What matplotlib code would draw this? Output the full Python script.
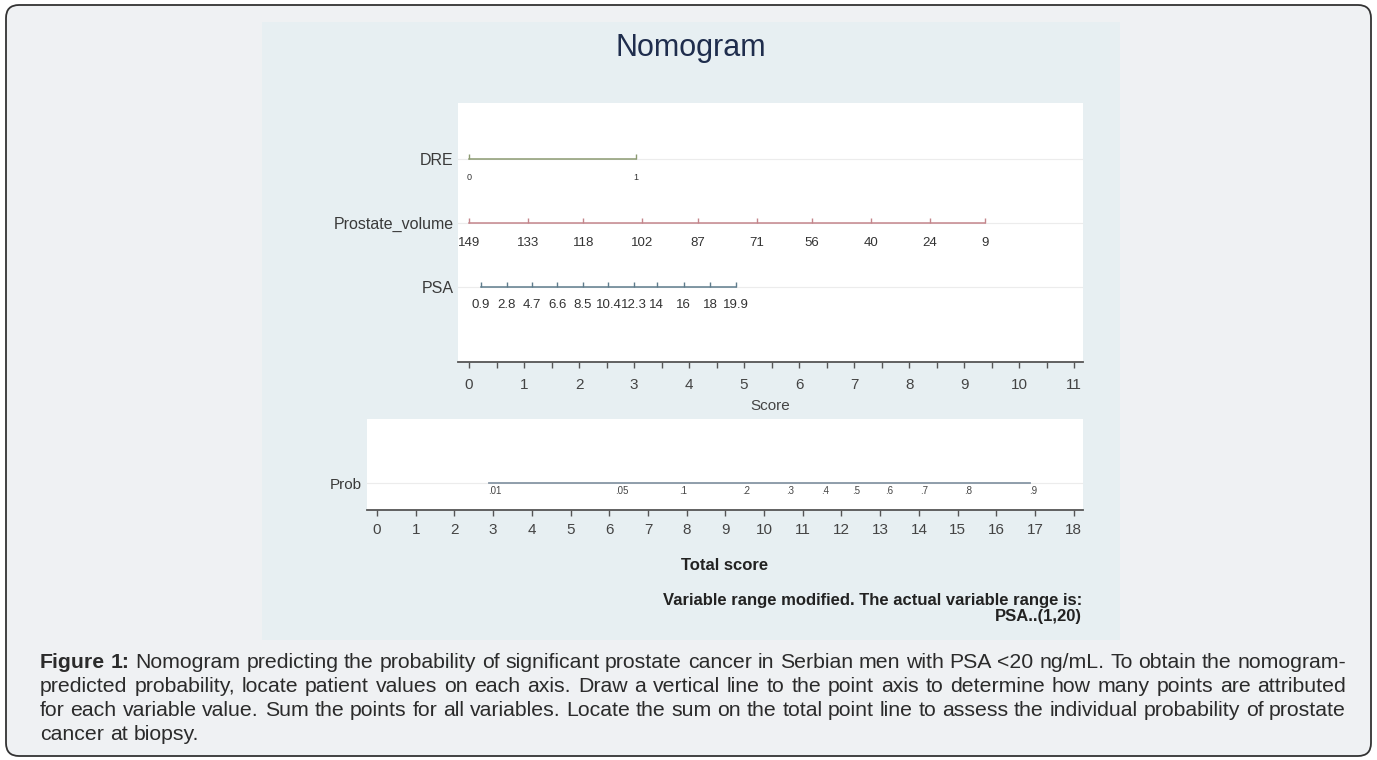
import matplotlib
matplotlib.use('Agg')
import matplotlib.pyplot as plt
from matplotlib.patches import FancyBboxPatch, Rectangle
import numpy as np

plt.rcParams['font.family'] = ['Liberation Sans', 'DejaVu Sans']

W, H = 1377, 760

# values
rows = ['DRE', 'Prostate_volume', 'PSA']
dre_values = [0, 1]
dre_coef = 3.03            # points for a positive DRE
pv_values = [149, 133, 118, 102, 87, 71, 56, 40, 24, 9]
pv_coef = 0.067            # points per ml below 149
psa_values = [0.9, 2.8, 4.7, 6.6, 8.5, 10.4, 12.3, 14, 16, 18, 19.9]
psa_coef = 0.2437          # points per ng/mL
score_ticks = np.arange(0, 11.5, 0.5)

prob_labels = ['.01', '.05', '.1', '.2', '.3', '.4', '.5', '.6', '.7', '.8', '.9']
prob_scores = [2.88, 6.15, 7.8, 9.43, 10.57, 11.47, 12.27, 13.13, 14.04, 15.16, 16.86]
total_ticks = list(range(0, 19))

caption_head = 'Figure 1:'
caption_lines = [
    'Nomogram predicting the probability of significant prostate cancer in Serbian men with PSA <20 ng/mL. To obtain the nomogram-',
    'predicted probability, locate patient values on each axis. Draw a vertical line to the point axis to determine how many points are attributed',
    'for each variable value. Sum the points for all variables. Locate the sum on the total point line to assess the individual probability of prostate',
    'cancer at biopsy.',
]

fig = plt.figure(figsize=(W / 100, H / 100), dpi=100)
fig.patch.set_facecolor('white')


def px_axes(x0, y0, x1, y1):
    # axes placed by pixel box (top-left origin)
    return fig.add_axes([x0 / W, 1 - y1 / H, (x1 - x0) / W, (y1 - y0) / H])


bg = px_axes(0, 0, W, H)
bg.set_xlim(0, W)
bg.set_ylim(H, 0)
bg.axis('off')
bg.add_patch(FancyBboxPatch((6, 5), 1365, 751, boxstyle='round,pad=0,rounding_size=13',
                            fc='#eff1f3', ec='#333333', lw=1.3))
bg.add_patch(Rectangle((262, 22), 858, 618, fc='#e7eff2', ec='none'))
bg.text(691, 48, 'Nomogram', ha='center', va='center', fontsize=22, color='#1f2d4d')

# ---- top panel: points for each variable
ax1 = px_axes(458, 103, 1083, 362)
ax1.set_facecolor('white')
for s in ['top', 'right', 'left']:
    ax1.spines[s].set_visible(False)
ax1.spines['bottom'].set_color('#555555')
ax1.spines['bottom'].set_linewidth(1.3)
ax1.set_xlim(-0.2, 11.16)
ax1.set_ylim(-0.17, 3.875)
ax1.set_xticks(score_ticks, [f'{t:g}' if t == int(t) else '' for t in score_ticks])
ax1.tick_params(axis='x', length=4.5, width=1, color='#555555', labelsize=11,
                labelcolor='#444444', pad=7)
ax1.set_yticks([3, 2, 1], rows)
ax1.tick_params(axis='y', length=0, pad=3, labelsize=11.5, labelcolor='#3a3a3a')
ax1.set_xlabel('Score', fontsize=11, color='#444444', labelpad=5)

row_specs = [
    (3, [v * dre_coef for v in dre_values], [str(v) for v in dre_values], '#8c9a72', 6.5, 18),
    (2, [(149 - v) * pv_coef for v in pv_values], [str(v) for v in pv_values], '#c4868c', 9.5, 20),
    (1, [v * psa_coef for v in psa_values], [f'{v:g}' for v in psa_values], '#5f7c8c', 9.5, 18),
]
for y, sc, labs, col, fs, off in row_specs:
    ax1.axhline(y, color='#ececec', lw=0.8, zorder=0)
    ax1.plot([min(sc), max(sc)], [y, y], color=col, lw=1.1)
    ax1.plot(sc, [y] * len(sc), ls='none', marker=2, ms=3.5, mew=1, color=col)
    for s, lab in zip(sc, labs):
        ax1.annotate(lab, (s, y), xytext=(0, -off * 0.72), textcoords='offset points',
                     ha='center', va='center', fontsize=fs, color='#333333')

# ---- bottom panel: total score -> probability
ax2 = px_axes(367, 419, 1083, 510)
ax2.set_facecolor('white')
for s in ['top', 'right', 'left']:
    ax2.spines[s].set_visible(False)
ax2.spines['bottom'].set_color('#555555')
ax2.spines['bottom'].set_linewidth(1.3)
ax2.set_xlim(-0.26, 18.24)
ax2.set_ylim(-0.42, 1.0)
ax2.set_xticks(total_ticks, [str(t) for t in total_ticks])
ax2.tick_params(axis='x', length=4.5, width=1, color='#555555', labelsize=11,
                labelcolor='#444444', pad=5)
ax2.set_yticks([0], ['Prob'])
ax2.tick_params(axis='y', length=0, pad=4, labelsize=11, labelcolor='#3a3a3a')
ax2.axhline(0, color='#ececec', lw=0.8, zorder=0)
ax2.plot([prob_scores[0], prob_scores[-1]], [0, 0], color='#8796a5', lw=1.3)
for s, lab in zip(prob_scores, prob_labels):
    ax2.annotate(lab, (s, 0), xytext=(0, -8 * 0.72), textcoords='offset points',
                 ha='left', va='center', fontsize=7, color='#444444')
ax2.set_xlabel('Total score', fontsize=12, fontweight='bold', color='#222222', labelpad=15)

bg.text(1082, 600, 'Variable range modified. The actual variable range is:', ha='right',
        va='center', fontsize=12, fontweight='bold', color='#222222')
bg.text(1082, 617, 'PSA..(1,20)', ha='right', va='center', fontsize=12,
        fontweight='bold', color='#222222')

# ---- caption, justified like the web page
cap_y = [663, 687, 711, 735]
cap_left, cap_right = 40, 1346
cap_kw = dict(ha='left', va='center', fontsize=15.3, color='#2b2b2b')
renderer = fig.canvas.get_renderer()


def caption_line(tokens, y, justify):
    objs = [bg.text(0, y, w, fontweight='bold' if b else 'normal', **cap_kw) for w, b in tokens]
    widths = [t.get_window_extent(renderer).width for t in objs]
    probe1 = bg.text(0, y, 'a a', **cap_kw)
    probe2 = bg.text(0, y, 'aa', **cap_kw)
    space = probe1.get_window_extent(renderer).width - probe2.get_window_extent(renderer).width
    probe1.remove()
    probe2.remove()
    if justify and len(objs) > 1:
        gap = (cap_right - cap_left - sum(widths)) / (len(objs) - 1)
    else:
        gap = space
    x = cap_left
    for t, w in zip(objs, widths):
        t.set_x(x)
        x += w + gap


first = [(w, True) for w in caption_head.split()] + [(w, False) for w in caption_lines[0].split()]
caption_line(first, cap_y[0], True)
for i, line in enumerate(caption_lines[1:], start=1):
    caption_line([(w, False) for w in line.split()], cap_y[i], i < len(caption_lines) - 1)

fig.savefig('out.png', dpi=100)
